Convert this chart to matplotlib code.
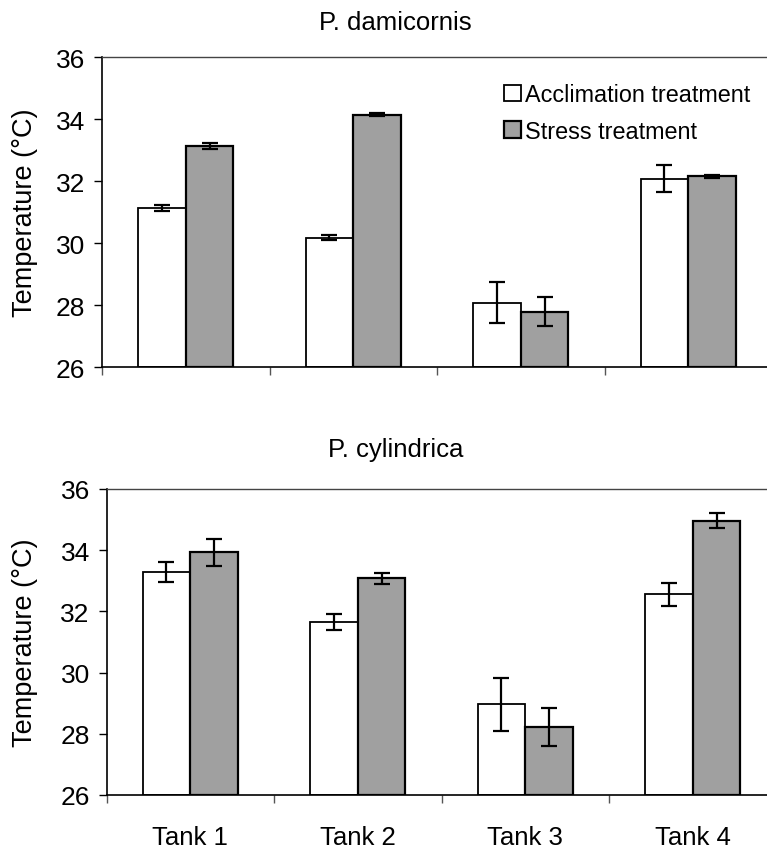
import matplotlib
matplotlib.use("Agg")
import matplotlib.pyplot as plt
import numpy as np

categories = ["Tank 1", "Tank 2", "Tank 3", "Tank 4"]
series_names = ["Acclimation treatment", "Stress treatment"]

dam_accl = [31.12, 30.17, 28.08, 32.08]
dam_accl_err = [0.09, 0.08, 0.65, 0.44]
dam_stress = [33.12, 34.14, 27.78, 32.15]
dam_stress_err = [0.09, 0.05, 0.47, 0.04]

cyl_accl = [33.30, 31.64, 28.96, 32.56]
cyl_accl_err = [0.33, 0.26, 0.86, 0.38]
cyl_stress = [33.93, 33.08, 28.22, 34.97]
cyl_stress_err = [0.45, 0.19, 0.62, 0.23]

titles = ["P. damicornis", "P. cylindrica"]
yticks = [26, 28, 30, 32, 34, 36]

plt.rcParams['font.family'] = ['Liberation Sans', 'DejaVu Sans']

W, H = 767, 854
fig = plt.figure(figsize=(W / 100, H / 100), dpi=100)

def px_axes(left, top, right, bottom):
    return fig.add_axes([left / W, 1 - bottom / H, (right - left) / W, (bottom - top) / H])

ax1 = px_axes(102, 58, 772, 368)
ax2 = px_axes(106.5, 490, 776.5, 796)

def draw(ax, left_px, accl, accl_err, stress, stress_err, show_xlabels):
    x = np.arange(len(categories))
    bw = 0.284
    ax.bar(x - bw / 2, np.array(accl) - 26, bw, bottom=26, color="white",
           edgecolor="black", linewidth=1.3, zorder=2, label=series_names[0])
    ax.bar(x + bw / 2, np.array(stress) - 26, bw, bottom=26, color="#a0a0a0",
           edgecolor="black", linewidth=1.6, zorder=2, label=series_names[1])
    ax.errorbar(x - bw / 2, accl, yerr=accl_err, fmt="none", ecolor="black",
                elinewidth=1.6, capsize=5.5, capthick=1.6, zorder=3)
    ax.errorbar(x + bw / 2, stress, yerr=stress_err, fmt="none", ecolor="black",
                elinewidth=1.6, capsize=5.5, capthick=1.6, zorder=3)
    ax.set_xlim(-0.5, len(categories) - 0.5)
    ax.set_ylim(26, 36)
    ax.set_yticks(yticks)
    ax.set_yticklabels([str(t) for t in yticks], fontsize=19)
    ax.tick_params(axis="y", direction="out", length=6, width=1, pad=6)
    ax.set_xticks(x)
    if show_xlabels:
        ax.set_xticklabels(categories, fontsize=18.5)
    else:
        ax.set_xticklabels([])
    ax.tick_params(axis="x", which="major", length=0, pad=21.5)
    ax.set_xticks(np.arange(-0.5, len(categories), 1.0), minor=True)
    ax.tick_params(axis="x", which="minor", direction="out", length=6, width=1, color="#555555")
    for s in ["left", "bottom"]:
        ax.spines[s].set_linewidth(1.2)
        ax.spines[s].set_color("black")
    ax.spines["top"].set_linewidth(1.0)
    ax.spines["top"].set_color("#444444")
    ax.spines["right"].set_linewidth(1.0)
    ax.set_ylabel("Temperature (°C)", fontsize=19.5)
    ax.yaxis.set_label_coords((38 - left_px) / 670, 0.5)

draw(ax1, 102, dam_accl, dam_accl_err, dam_stress, dam_stress_err, False)
draw(ax2, 106.5, cyl_accl, cyl_accl_err, cyl_stress, cyl_stress_err, True)

fig.text(395 / W, 1 - 29.5 / H, titles[0], ha="center", va="baseline", fontsize=18.5)
fig.text(395.5 / W, 1 - 457 / H, titles[1], ha="center", va="baseline", fontsize=18.5)

leg = ax1.legend(loc="upper left", bbox_to_anchor=((504 - 102) / 670, 1 - (84 - 58) / 310),
                 frameon=False, fontsize=16.8, handlelength=0.72, handleheight=0.72,
                 handletextpad=0.2, labelspacing=0.58, borderaxespad=0, borderpad=0)

fig.savefig("out.png", dpi=100)
